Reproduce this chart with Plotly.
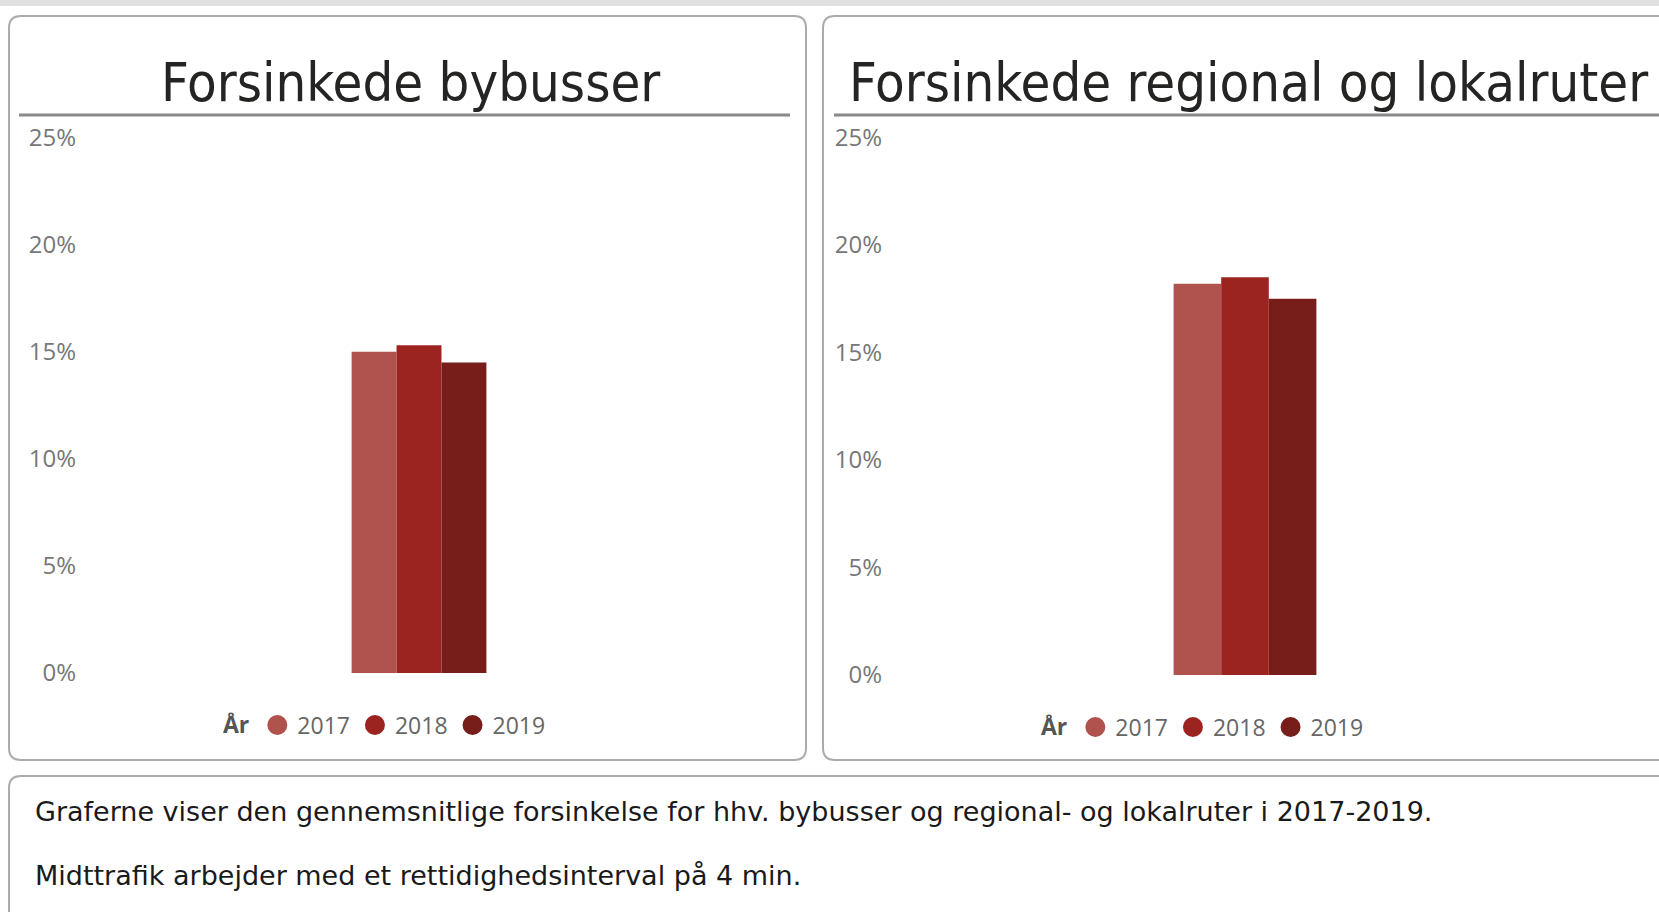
import plotly.graph_objects as go

W, H = 1659, 912

years = ["2017", "2018", "2019"]
colors = ["#B0524D", "#9B2420", "#771D1A"]
category = ["Forsinkelse"]
bybusser = [15.0, 15.3, 14.5]
regional = [18.2, 18.5, 17.5]
titles = ["Forsinkede bybusser", "Forsinkede regional og lokalruter"]
tickvals = [0, 5, 10, 15, 20, 25]
ticktext = ["0%", "5%", "10%", "15%", "20%", "25%"]
note_lines = [
    "Graferne viser den gennemsnitlige forsinkelse for hhv. bybusser og regional- og lokalruter i 2017-2019.",
    "Midttrafik arbejder med et rettidighedsinterval på 4 min.",
]


def px(x):
    return x / W


def py(y):
    return 1 - y / H


def rounded(x0, y0, x1, y1, r):
    X0, X1 = px(x0), px(x1)
    Y0, Y1 = py(y0), py(y1)
    rx, ry = r / W, r / H
    return (f"M {X0+rx},{Y0} L {X1-rx},{Y0} Q {X1},{Y0} {X1},{Y0-ry} "
            f"L {X1},{Y1+ry} Q {X1},{Y1} {X1-rx},{Y1} L {X0+rx},{Y1} "
            f"Q {X0},{Y1} {X0},{Y1+ry} L {X0},{Y0-ry} Q {X0},{Y0} {X0+rx},{Y0} Z")


fig = go.Figure()

for i, (yr, c) in enumerate(zip(years, colors)):
    fig.add_trace(go.Bar(x=category, y=[bybusser[i]], name=yr, marker_color=c,
                         marker_line_width=0, xaxis="x", yaxis="y", showlegend=False))
    fig.add_trace(go.Bar(x=category, y=[regional[i]], name=yr, marker_color=c,
                         marker_line_width=0, xaxis="x2", yaxis="y2", showlegend=False))
for i, (yr, c) in enumerate(zip(years, colors)):
    mk = dict(symbol="circle", size=16, color=c, line=dict(color=c, width=4))
    fig.add_trace(go.Scatter(x=[None], y=[None], mode="markers", name=yr, marker=mk,
                             xaxis="x", yaxis="y", legend="legend"))
    fig.add_trace(go.Scatter(x=[None], y=[None], mode="markers", name=yr, marker=mk,
                             xaxis="x2", yaxis="y2", legend="legend2"))

tickfont = dict(family="Segoe UI, Open Sans, sans-serif", size=24, color="#777777")
yax = dict(range=[0, 25], tickvals=tickvals, ticktext=ticktext, showgrid=False,
           zeroline=False, showline=False, ticks="", tickfont=tickfont, fixedrange=True,
           automargin=False, ticklabelstandoff=5)
xax = dict(showticklabels=False, showgrid=False, zeroline=False, showline=False,
           ticks="", fixedrange=True, automargin=False)

legfont = dict(family="Segoe UI, Open Sans, sans-serif", size=23, color="#666666")
legtitlefont = dict(family="Segoe UI, Open Sans, sans-serif", size=23, color="#555555",
                    weight="bold")

shapes = [
    dict(type="rect", xref="paper", yref="paper", x0=0, x1=1, y0=py(6), y1=1,
         fillcolor="#E1E1E1", line_width=0, layer="below"),
    dict(type="path", xref="paper", yref="paper", path=rounded(9, 16, 806, 760, 12),
         line=dict(color="#ABABAB", width=2), fillcolor="white", layer="below"),
    dict(type="path", xref="paper", yref="paper", path=rounded(823, 16, 1700, 760, 12),
         line=dict(color="#ABABAB", width=2), fillcolor="white", layer="below"),
    dict(type="path", xref="paper", yref="paper", path=rounded(9, 776, 1700, 930, 12),
         line=dict(color="#ABABAB", width=2), fillcolor="white", layer="below"),
    dict(type="line", xref="paper", yref="paper", x0=px(19), x1=px(790), y0=py(115), y1=py(115),
         line=dict(color="#8A8A8A", width=3)),
    dict(type="line", xref="paper", yref="paper", x0=px(834), x1=px(1659), y0=py(115), y1=py(115),
         line=dict(color="#8A8A8A", width=3)),
]

titlefont = dict(family="DejaVu Sans Condensed, Liberation Sans Narrow, DejaVu Sans", size=54, color="#252423")
annotations = [
    dict(text=titles[0], x=px(410), y=py(82), xref="paper", yref="paper",
         xanchor="center", yanchor="middle", showarrow=False, font=titlefont),
    dict(text=titles[1], x=px(1248), y=py(82), xref="paper", yref="paper",
         xanchor="center", yanchor="middle", showarrow=False, font=titlefont),
]
notefont = dict(family="DejaVu Sans, Verdana, sans-serif", size=27, color="#1A1A1A")
for yy, line in zip([811, 875], note_lines):
    annotations.append(dict(text=line, x=px(33), y=py(yy), xref="paper", yref="paper",
                            xanchor="left", yanchor="middle", showarrow=False, font=notefont))

fig.update_layout(
    width=W, height=H, autosize=False,
    margin=dict(l=0, r=0, t=0, b=0, pad=0),
    paper_bgcolor="white", plot_bgcolor="rgba(0,0,0,0)",
    barmode="group", bargap=0.8, bargroupgap=0,
    xaxis=dict(domain=[px(82), px(756)], anchor="y", **xax),
    yaxis=dict(domain=[py(673), py(137.5)], anchor="x", **yax),
    xaxis2=dict(domain=[px(888), px(1602)], anchor="y2", **xax),
    yaxis2=dict(domain=[py(675), py(137.5)], anchor="x2", **yax),
    legend=dict(orientation="h", x=px(221), y=py(725), xanchor="left", yanchor="middle",
                title=dict(text="År", font=legtitlefont), font=legfont, bgcolor="rgba(0,0,0,0)",
                itemsizing="trace"),
    legend2=dict(orientation="h", x=px(1039), y=py(727), xanchor="left", yanchor="middle",
                 title=dict(text="År", font=legtitlefont), font=legfont, bgcolor="rgba(0,0,0,0)",
                 itemsizing="trace"),
    shapes=shapes, annotations=annotations,
    showlegend=True,
)

fig.write_html(
    "out.html",
    config={"displayModeBar": False, "responsive": False},
    post_script="document.body.style.margin='0';document.body.style.overflow='hidden';",
)
